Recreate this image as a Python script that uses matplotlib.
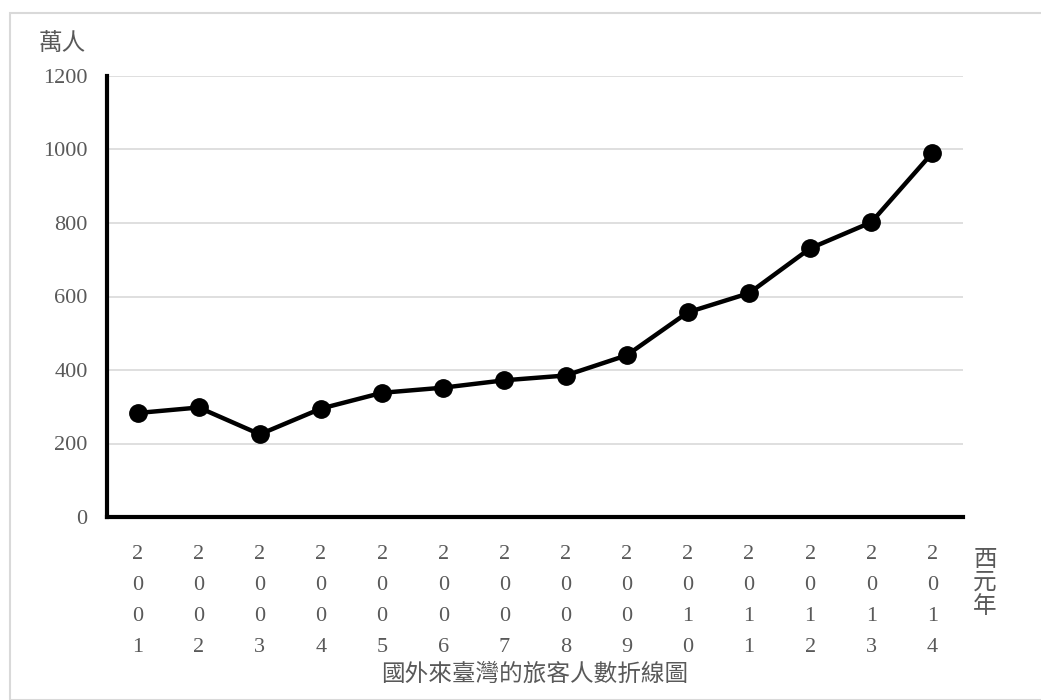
"""Line chart of foreign visitors to Taiwan, 2001-2014."""

import matplotlib
matplotlib.use("Agg")
import matplotlib.pyplot as plt
from matplotlib.patches import Rectangle

years = ["2001", "2002", "2003", "2004", "2005", "2006", "2007",
         "2008", "2009", "2010", "2011", "2012", "2013", "2014"]
visitors = [283, 298, 225, 295, 338, 352, 372, 385, 440, 557, 609, 731, 802, 991]
y_ticks = [0, 200, 400, 600, 800, 1000, 1200]

FONT = ["Liberation Serif", "Noto Sans CJK TC", "DejaVu Sans"]
GRAY = "#595959"
plt.rcParams["font.family"] = FONT

fig = plt.figure(figsize=(10.41, 7.0), dpi=100)
W, H = 1041, 700

# light frame round the chart area
fig.patches.append(Rectangle((10 / W, 0), 1.2, (H - 13) / H, transform=fig.transFigure,
                             fill=False, edgecolor="#d9d9d9", linewidth=1.5))

ax = fig.add_axes([107 / W, 1 - 517 / H, (963 - 107) / W, (517 - 76) / H])
x = list(range(len(years)))
ax.plot(x, visitors, color="black", linewidth=3.2, marker="o", markersize=12.5,
        zorder=3, clip_on=False)

ax.set_xlim(-0.5, len(years) - 0.5)
ax.set_ylim(0, 1200)
ax.set_yticks(y_ticks)
ax.set_yticklabels([str(v) for v in y_ticks], fontsize=16, color=GRAY)
ax.set_xticks(x)
ax.set_xticklabels(["\n".join(y) for y in years], fontsize=16, color=GRAY,
                   linespacing=1.86)
ax.tick_params(axis="both", length=0)
ax.tick_params(axis="x", pad=20)
ax.tick_params(axis="y", pad=14)

ax.grid(True, axis="y", color="#d9d9d9", linewidth=1.2)
ax.set_axisbelow(True)
for side in ("top", "right"):
    ax.spines[side].set_visible(False)
for side in ("left", "bottom"):
    ax.spines[side].set_linewidth(3)
    ax.spines[side].set_color("black")
    ax.spines[side].set_zorder(4)

fig.text(62 / W, 1 - 44 / H, "萬人", fontsize=17, color=GRAY,
         ha="center", va="center", family=FONT)
fig.text(985 / W, 1 - 584 / H, "西\n元\n年", fontsize=17, color=GRAY,
         ha="center", va="center", linespacing=1.1, family=FONT)
fig.text(535 / W, 1 - 675 / H, "國外來臺灣的旅客人數折線圖", fontsize=17, color=GRAY,
         ha="center", va="center", family=FONT)

fig.savefig("out.png", dpi=100)
